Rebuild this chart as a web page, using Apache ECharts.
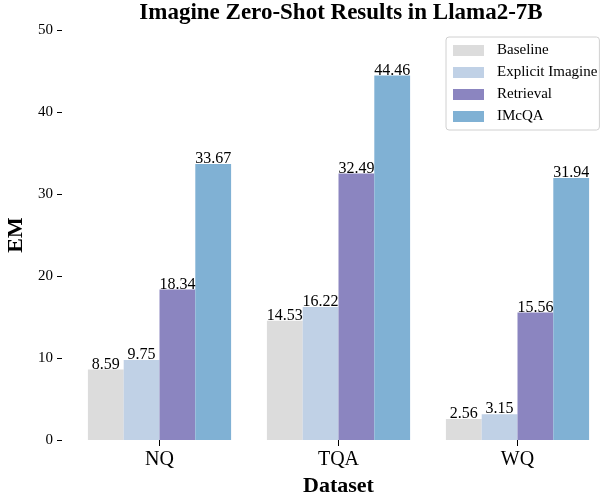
<!DOCTYPE html>
<html><head><meta charset="utf-8">
<script src="https://cdn.jsdelivr.net/npm/echarts@6/dist/echarts.min.js"></script>
<style>html,body{margin:0;padding:0;background:#fff}#c{width:602px;height:495px}</style>
</head><body><div id="c"></div>
<script>
const categories = ['NQ', 'TQA', 'WQ'];
const seriesNames = ['Baseline', 'Explicit Imagine', 'Retrieval', 'IMcQA'];
const baseline = [8.59, 14.53, 2.56];
const explicitImagine = [9.75, 16.22, 3.15];
const retrieval = [18.34, 32.49, 15.56];
const imcqa = [33.67, 44.46, 31.94];
const colors = ['#dcdcdc', '#c0d1e6', '#8b85c0', '#80b1d4'];
const font = '"Liberation Serif", "Times New Roman", serif';

const chart = echarts.init(document.getElementById('c'));
const dataSets = [baseline, explicitImagine, retrieval, imcqa];
chart.setOption({
  animation: false,
  textStyle: { fontFamily: font },
  title: {
    text: 'Imagine Zero-Shot Results in Llama2-7B',
    left: 341, textAlign: 'center', top: 2, padding: 0,
    textStyle: { fontFamily: font, fontWeight: 'bold', fontSize: 23, color: '#000' }
  },
  legend: {
    data: seriesNames,
    orient: 'vertical',
    left: 446, top: 37,
    itemWidth: 31, itemHeight: 11, itemGap: 7,
    padding: [6, 2, 6, 7],
    borderColor: '#d0d0d0', borderWidth: 1, borderRadius: 3,
    backgroundColor: '#ffffff',
    icon: 'rect',
    textStyle: { fontFamily: font, fontSize: 15, lineHeight: 15, color: '#000', padding: [0, 0, 0, 8] }
  },
  grid: { left: 70, right: -5, top: 30, bottom: 55, outerBoundsMode: 'none', containLabel: false },
  xAxis: {
    type: 'category', data: categories,
    name: 'Dataset', nameLocation: 'middle', nameGap: 32,
    nameTextStyle: { fontFamily: font, fontWeight: 'bold', fontSize: 22, color: '#000' },
    axisLine: { show: false },
    axisTick: { show: true, alignWithLabel: true, length: 6, lineStyle: { color: '#000' } },
    axisLabel: { fontFamily: font, fontSize: 20, color: '#000', margin: 10 }
  },
  yAxis: {
    type: 'value', min: 0, max: 50, interval: 10,
    name: 'EM', nameLocation: 'middle', nameGap: 34,
    nameTextStyle: { fontFamily: font, fontWeight: 'bold', fontSize: 22, color: '#000' },
    offset: 8,
    axisLine: { show: false },
    axisTick: { show: true, length: 5, lineStyle: { color: '#000' } },
    axisLabel: { fontFamily: font, fontSize: 15, color: '#000', margin: 9 },
    splitLine: { show: false }
  },
  series: seriesNames.map((n, i) => ({
    name: n, type: 'bar', data: dataSets[i],
    barGap: '0%', barCategoryGap: '20%',
    itemStyle: { color: colors[i] },
    label: { show: true, position: 'top', distance: -3, fontFamily: font, fontSize: 16, color: '#000',
      formatter: p => p.value.toFixed(2) }
  }))
});
</script></body></html>
